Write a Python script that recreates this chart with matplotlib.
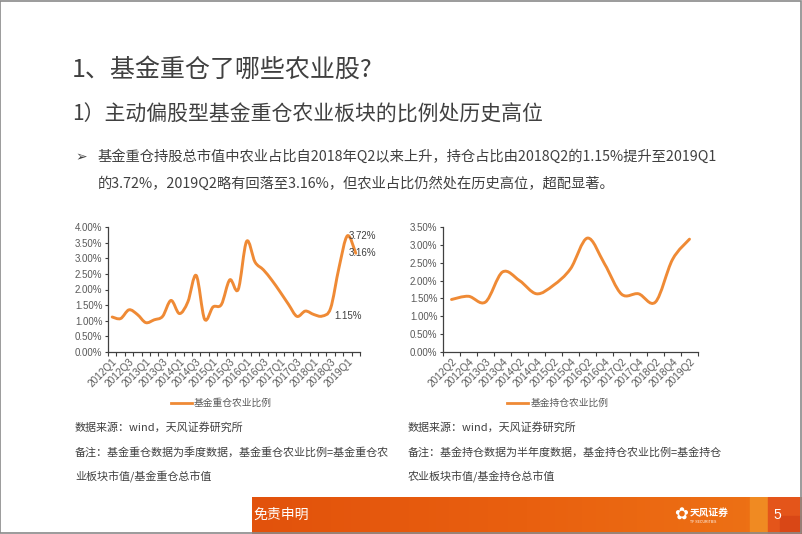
import matplotlib.pyplot as plt
import numpy as np
from matplotlib.path import Path
from matplotlib.patches import PathPatch, Rectangle
from matplotlib.lines import Line2D
from matplotlib.colors import LinearSegmentedColormap

plt.rcParams['font.family'] = ['Noto Sans CJK SC', 'DejaVu Sans']

# left chart: quarterly data
q_labels = ['2012Q1', '2012Q2', '2012Q3', '2012Q4', '2013Q1', '2013Q2', '2013Q3', '2013Q4',
            '2014Q1', '2014Q2', '2014Q3', '2014Q4', '2015Q1', '2015Q2', '2015Q3', '2015Q4',
            '2016Q1', '2016Q2', '2016Q3', '2016Q4', '2017Q1', '2017Q2', '2017Q3', '2017Q4',
            '2018Q1', '2018Q2', '2018Q3', '2018Q4', '2019Q1', '2019Q2']
heavy = [1.12, 1.07, 1.35, 1.20, 0.94, 1.03, 1.14, 1.65, 1.23, 1.60,
         2.45, 1.05, 1.44, 1.52, 2.31, 2.00, 3.54, 2.88, 2.63, 2.30,
         1.92, 1.52, 1.14, 1.31, 1.20, 1.15, 1.40, 2.70, 3.72, 3.16]

# right chart: half-year data
h_labels = ['2012Q2', '2012Q4', '2013Q3', '2013Q4', '2014Q2', '2014Q4', '2015Q2', '2015Q4',
            '2016Q2', '2016Q4', '2017Q2', '2017Q4', '2018Q2', '2018Q4', '2019Q2']
hold = [1.47, 1.56, 1.40, 2.24, 2.00, 1.63, 1.87, 2.33, 3.19, 2.47,
        1.62, 1.63, 1.40, 2.59, 3.16]

ORANGE = '#EF8A35'
GRAY = '#595959'


def smooth_path(x, y, t=1 / 6):
    # Excel-like smoothed line: cubic bezier through every point
    x = np.asarray(x, float)
    y = np.asarray(y, float)
    verts = [(x[0], y[0])]
    codes = [Path.MOVETO]
    n = len(x)
    for i in range(n - 1):
        x0, y0 = (x[i - 1], y[i - 1]) if i > 0 else (x[i], y[i])
        x3, y3 = (x[i + 2], y[i + 2]) if i + 2 < n else (x[i + 1], y[i + 1])
        c1 = (x[i] + (x[i + 1] - x0) * t, y[i] + (y[i + 1] - y0) * t)
        c2 = (x[i + 1] - (x3 - x[i]) * t, y[i + 1] - (y3 - y[i]) * t)
        verts += [c1, c2, (x[i + 1], y[i + 1])]
        codes += [Path.CURVE4] * 3
    return Path(verts, codes)


def draw_chart(ax, labels, values, ymax, step, label_every, legend_text):
    xs = np.arange(len(values))
    ax.add_patch(PathPatch(smooth_path(xs, values), fill=False, edgecolor=ORANGE,
                           lw=2.1, capstyle='round', joinstyle='round'))
    ax.set_xlim(-0.5, len(values) - 0.5)
    ax.set_ylim(0, ymax)
    yt = np.arange(0, ymax + 0.001, step)
    ax.set_yticks(yt)
    ax.set_yticklabels(['%.2f%%' % v for v in yt], family='Liberation Sans',
                       fontsize=7, color=GRAY)
    ax.set_xticks(xs[::label_every])
    ax.set_xticklabels(labels[::label_every], rotation=45, ha='right',
                       rotation_mode='anchor', family='Liberation Sans',
                       fontsize=7.2, color=GRAY)
    ax.set_xticks(np.arange(len(values) + 1) - 0.5, minor=True)
    ax.tick_params(axis='x', which='major', length=0, pad=3)
    ax.tick_params(axis='x', which='minor', length=3, width=0.8, color='#404040',
                   direction='out')
    ax.tick_params(axis='y', length=2, width=0.8, color='#404040', pad=2)
    for s in ['top', 'right']:
        ax.spines[s].set_visible(False)
    for s in ['left', 'bottom']:
        ax.spines[s].set_color('#404040')
        ax.spines[s].set_linewidth(0.9)
    h = Line2D([], [], color=ORANGE, lw=2.0)
    ax.legend([h], [legend_text], loc='center', bbox_to_anchor=(0.45, -0.41),
              frameon=False, fontsize=7, handlelength=2.2, handletextpad=0.2,
              labelcolor=GRAY)


fig = plt.figure(figsize=(8.02, 5.34), dpi=100)
fig.patch.set_facecolor('white')

# slide border
fig.add_artist(Rectangle((0.0005, 0.001), 0.998, 0.997, transform=fig.transFigure,
                         fill=False, edgecolor='#8a8a8a', lw=1.2))

fig.text(72 / 802, 1 - 70 / 534, '1、基金重仓了哪些农业股?', fontsize=18,
         color='#404040', va='center', ha='left')
fig.text(72 / 802, 1 - 115 / 534, '1）主动偏股型基金重仓农业板块的比例处历史高位',
         fontsize=15, color='#404040', va='center', ha='left')
fig.text(75 / 802, 1 - 157 / 534, '➢', fontsize=10, color='#404040', va='center',
         family=['DejaVu Sans'])
fig.text(98 / 802, 1 - 157 / 534,
         '基金重仓持股总市值中农业占比自2018年Q2以来上升，持仓占比由2018Q2的1.15%提升至2019Q1',
         fontsize=10.3, color='#404040', va='center')
fig.text(98 / 802, 1 - 184 / 534,
         '的3.72%，2019Q2略有回落至3.16%，但农业占比仍然处在历史高位，超配显著。',
         fontsize=10.3, color='#404040', va='center')

ax1 = fig.add_axes([108 / 802, 1 - 352 / 534, 252 / 802, 125 / 534])
draw_chart(ax1, q_labels, heavy, 4.0, 0.5, 2, '基金重仓农业比例')
ann = {28: (1, 0), 29: (-7, 0), 25: (12, 0)}
for i, (dx, dy) in ann.items():
    ax1.annotate('%.2f%%' % heavy[i], (i, heavy[i]), xytext=(dx * 0.72, dy),
                 textcoords='offset points', ha='left', va='center',
                 fontsize=7, color='#404040', family='Liberation Sans')

ax2 = fig.add_axes([443 / 802, 1 - 352 / 534, 255 / 802, 125 / 534])
draw_chart(ax2, h_labels, hold, 3.5, 0.5, 1, '基金持仓农业比例')

notes_l = ['数据来源：wind，天风证券研究所',
           '备注：基金重仓数据为季度数据，基金重仓农业比例=基金重仓农',
           '业板块市值/基金重仓总市值']
notes_r = ['数据来源：wind，天风证券研究所',
           '备注：基金持仓数据为半年度数据，基金持仓农业比例=基金持仓',
           '农业板块市值/基金持仓总市值']
for k, (a, b) in enumerate(zip(notes_l, notes_r)):
    y = 1 - (427 + 25 * k) / 534
    fig.text(75 / 802, y, a, fontsize=7.95, color='#404040', va='center')
    fig.text(408 / 802, y, b, fontsize=7.95, color='#404040', va='center')

# footer bar
bar = fig.add_axes([252 / 802, 0.0, 550 / 802, 37 / 534])
grad = np.linspace(0, 1, 256)[None, :]
cm = LinearSegmentedColormap.from_list('ft', ['#E2520C', '#E9600F', '#EE7416'])
bar.imshow(grad, aspect='auto', cmap=cm, extent=[0, 1, 0, 1])
bar.add_patch(Rectangle((0.905, 0), 0.033, 1, color='#F08A22'))
bar.add_patch(Rectangle((0.938, 0), 0.062, 1, color='#E4551A'))
bar.add_patch(Rectangle((0.96, 0.0), 0.04, 0.5, color='#D94716'))
bar.set_xlim(0, 1)
bar.set_ylim(0, 1)
bar.axis('off')
fig.text(253 / 802, 1 - 515 / 534, '免责申明', fontsize=10, color='white', va='center')
fig.text(690 / 802, 1 - 513 / 534, '天风证券', fontsize=7, color='white', va='center',
         weight='bold')
fig.text(690 / 802, 1 - 522 / 534, 'TF SECURITIES', fontsize=2.5, color='white',
         va='center', family='Liberation Sans')
fig.text(674 / 802, 1 - 515 / 534, '✿', fontsize=12, color='white', va='center',
         family=['DejaVu Sans'])
fig.text(777 / 802, 1 - 515 / 534, '5', fontsize=10, color='white', va='center',
         ha='center', family='Liberation Sans')

fig.savefig('out.png', dpi=100)
